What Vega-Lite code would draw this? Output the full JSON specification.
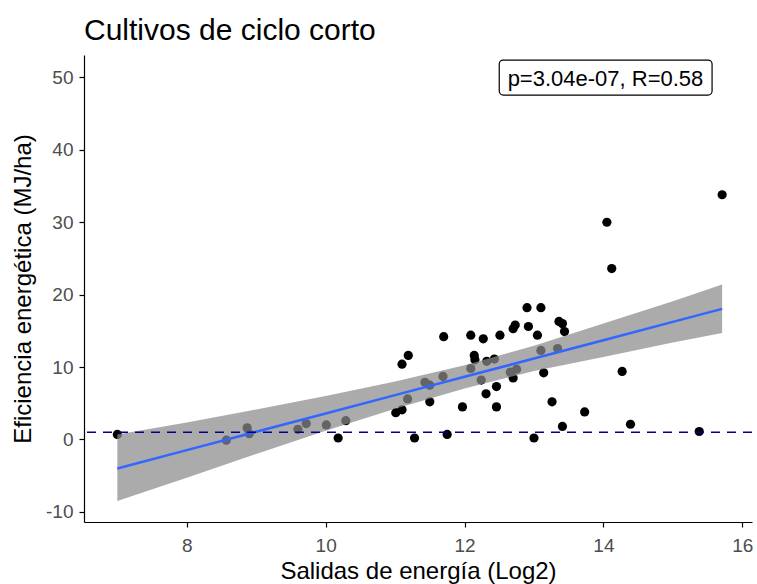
{
  "$schema": "https://vega.github.io/schema/vega-lite/v6.json",
  "width": 668,
  "height": 467,
  "autosize": {"type": "none"},
  "padding": {"left": 84, "top": 55, "right": 5, "bottom": 62},
  "background": "white",
  "title": {"text": "Cultivos de ciclo corto", "anchor": "start", "frame": "group", "fontSize": 30, "font": "Liberation Sans", "fontWeight": "normal", "color": "black", "offset": 9},
  "config": {
    "view": {"stroke": null},
    "axis": {"grid": false, "domainColor": "black", "domainWidth": 1.2, "tickColor": "black", "tickWidth": 1.2, "tickSize": 5, "labelFont": "Liberation Sans", "labelFontSize": 19, "labelColor": "#4d4d4d", "titleFont": "Liberation Sans", "titleFontSize": 24, "titleFontWeight": "normal", "titleColor": "black"}
  },
  "datasets": {
    "pts": [
      {"x": 14.05, "y": 30.0}, {"x": 14.12, "y": 23.6}, {"x": 12.9, "y": 18.2}, {"x": 13.1, "y": 18.2},
      {"x": 12.73, "y": 15.8}, {"x": 12.7, "y": 15.3}, {"x": 12.92, "y": 15.6}, {"x": 13.36, "y": 16.3},
      {"x": 13.41, "y": 16.0}, {"x": 13.44, "y": 14.9}, {"x": 13.05, "y": 14.4}, {"x": 12.51, "y": 14.4},
      {"x": 12.27, "y": 13.9}, {"x": 12.09, "y": 14.4}, {"x": 11.7, "y": 14.2}, {"x": 11.19, "y": 11.6},
      {"x": 11.1, "y": 10.4}, {"x": 12.14, "y": 11.6}, {"x": 12.15, "y": 11.0}, {"x": 12.32, "y": 10.8},
      {"x": 12.43, "y": 11.1}, {"x": 13.1, "y": 12.3}, {"x": 13.34, "y": 12.55}, {"x": 12.09, "y": 9.8},
      {"x": 11.69, "y": 8.7}, {"x": 11.43, "y": 7.9}, {"x": 11.5, "y": 7.5}, {"x": 11.18, "y": 5.6},
      {"x": 11.1, "y": 4.1}, {"x": 11.5, "y": 5.2}, {"x": 11.97, "y": 4.5}, {"x": 12.24, "y": 8.2},
      {"x": 12.31, "y": 6.3}, {"x": 12.46, "y": 7.3}, {"x": 12.46, "y": 4.5}, {"x": 12.66, "y": 9.3},
      {"x": 12.75, "y": 9.7}, {"x": 12.7, "y": 8.5}, {"x": 13.14, "y": 9.2}, {"x": 14.27, "y": 9.4},
      {"x": 13.26, "y": 5.2}, {"x": 13.73, "y": 3.8}, {"x": 13.41, "y": 1.8}, {"x": 14.39, "y": 2.1},
      {"x": 15.38, "y": 1.1}, {"x": 13.0, "y": 0.2}, {"x": 11.75, "y": 0.7}, {"x": 11.28, "y": 0.2},
      {"x": 15.71, "y": 33.8}, {"x": 7.0, "y": 0.7}, {"x": 8.57, "y": -0.1}, {"x": 8.87, "y": 1.6},
      {"x": 8.9, "y": 0.8}, {"x": 9.6, "y": 1.4}, {"x": 9.72, "y": 2.2}, {"x": 10.01, "y": 2.0},
      {"x": 10.18, "y": 0.2}, {"x": 10.29, "y": 2.6}, {"x": 11.01, "y": 3.7}
    ],
    "band": [
      {"x": 7, "fit": -4.0, "lo": -8.5, "hi": 0.7},
      {"x": 8, "fit": -1.47, "lo": -5.3, "hi": 2.35},
      {"x": 9, "fit": 1.06, "lo": -2.0, "hi": 4.15},
      {"x": 10, "fit": 3.59, "lo": 1.2, "hi": 6.0},
      {"x": 11, "fit": 6.12, "lo": 4.25, "hi": 8.0},
      {"x": 12, "fit": 8.65, "lo": 7.05, "hi": 10.25},
      {"x": 13, "fit": 11.18, "lo": 9.45, "hi": 12.95},
      {"x": 14, "fit": 13.71, "lo": 11.4, "hi": 16.0},
      {"x": 15, "fit": 16.24, "lo": 13.4, "hi": 19.1},
      {"x": 15.71, "fit": 18.04, "lo": 14.7, "hi": 21.4}
    ],
    "ref": [{"y": 1}],
    "box": [{"x1": 12.5, "x2": 15.565, "y1": 47.56, "y2": 52.4, "tx": 14.03, "ty": 49.8, "label": "p=3.04e-07, R=0.58"}]
  },
  "layer": [
    {
      "data": {"name": "pts"},
      "mark": {"type": "circle", "size": 85, "color": "black", "opacity": 1},
      "encoding": {
        "x": {"field": "x", "type": "quantitative", "title": "Salidas de energía (Log2)", "scale": {"domain": [6.52, 16.14], "nice": false, "zero": false}, "axis": {"values": [8, 10, 12, 14, 16], "labelExpr": "toString(datum.value)", "labelPadding": 9, "titlePadding": 4}},
        "y": {"field": "y", "type": "quantitative", "title": "Eficiencia energética (MJ/ha)", "scale": {"domain": [-11.4, 53.1], "nice": false, "zero": false}, "axis": {"values": [-10, 0, 10, 20, 30, 40, 50], "labelExpr": "toString(datum.value)", "labelPadding": 6, "titlePadding": 10}}
      }
    },
    {
      "data": {"name": "band"},
      "mark": {"type": "area", "color": "#8b8b8b", "opacity": 0.72},
      "encoding": {
        "x": {"field": "x", "type": "quantitative", "title": "Salidas de energía (Log2)"},
        "y": {"field": "lo", "type": "quantitative", "title": "Eficiencia energética (MJ/ha)"},
        "y2": {"field": "hi"}
      }
    },
    {
      "data": {"name": "band"},
      "mark": {"type": "line", "color": "#3366FF", "strokeWidth": 2.5},
      "encoding": {
        "x": {"field": "x", "type": "quantitative", "title": "Salidas de energía (Log2)"},
        "y": {"field": "fit", "type": "quantitative", "title": "Eficiencia energética (MJ/ha)"}
      }
    },
    {
      "data": {"name": "ref"},
      "mark": {"type": "rule", "color": "#00008B", "strokeWidth": 1.5, "strokeDash": [9, 7]},
      "encoding": {"y": {"field": "y", "type": "quantitative", "title": "Eficiencia energética (MJ/ha)"}}
    },
    {
      "data": {"name": "box"},
      "mark": {"type": "rect", "fill": "white", "stroke": "black", "strokeWidth": 1.2, "cornerRadius": 4},
      "encoding": {
        "x": {"field": "x1", "type": "quantitative", "title": "Salidas de energía (Log2)"},
        "x2": {"field": "x2"},
        "y": {"field": "y1", "type": "quantitative", "title": "Eficiencia energética (MJ/ha)"},
        "y2": {"field": "y2"}
      }
    },
    {
      "data": {"name": "box"},
      "mark": {"type": "text", "font": "Liberation Sans", "fontSize": 22, "color": "black", "align": "center", "baseline": "middle"},
      "encoding": {
        "x": {"field": "tx", "type": "quantitative", "title": "Salidas de energía (Log2)"},
        "y": {"field": "ty", "type": "quantitative", "title": "Eficiencia energética (MJ/ha)"},
        "text": {"field": "label"}
      }
    }
  ]
}
